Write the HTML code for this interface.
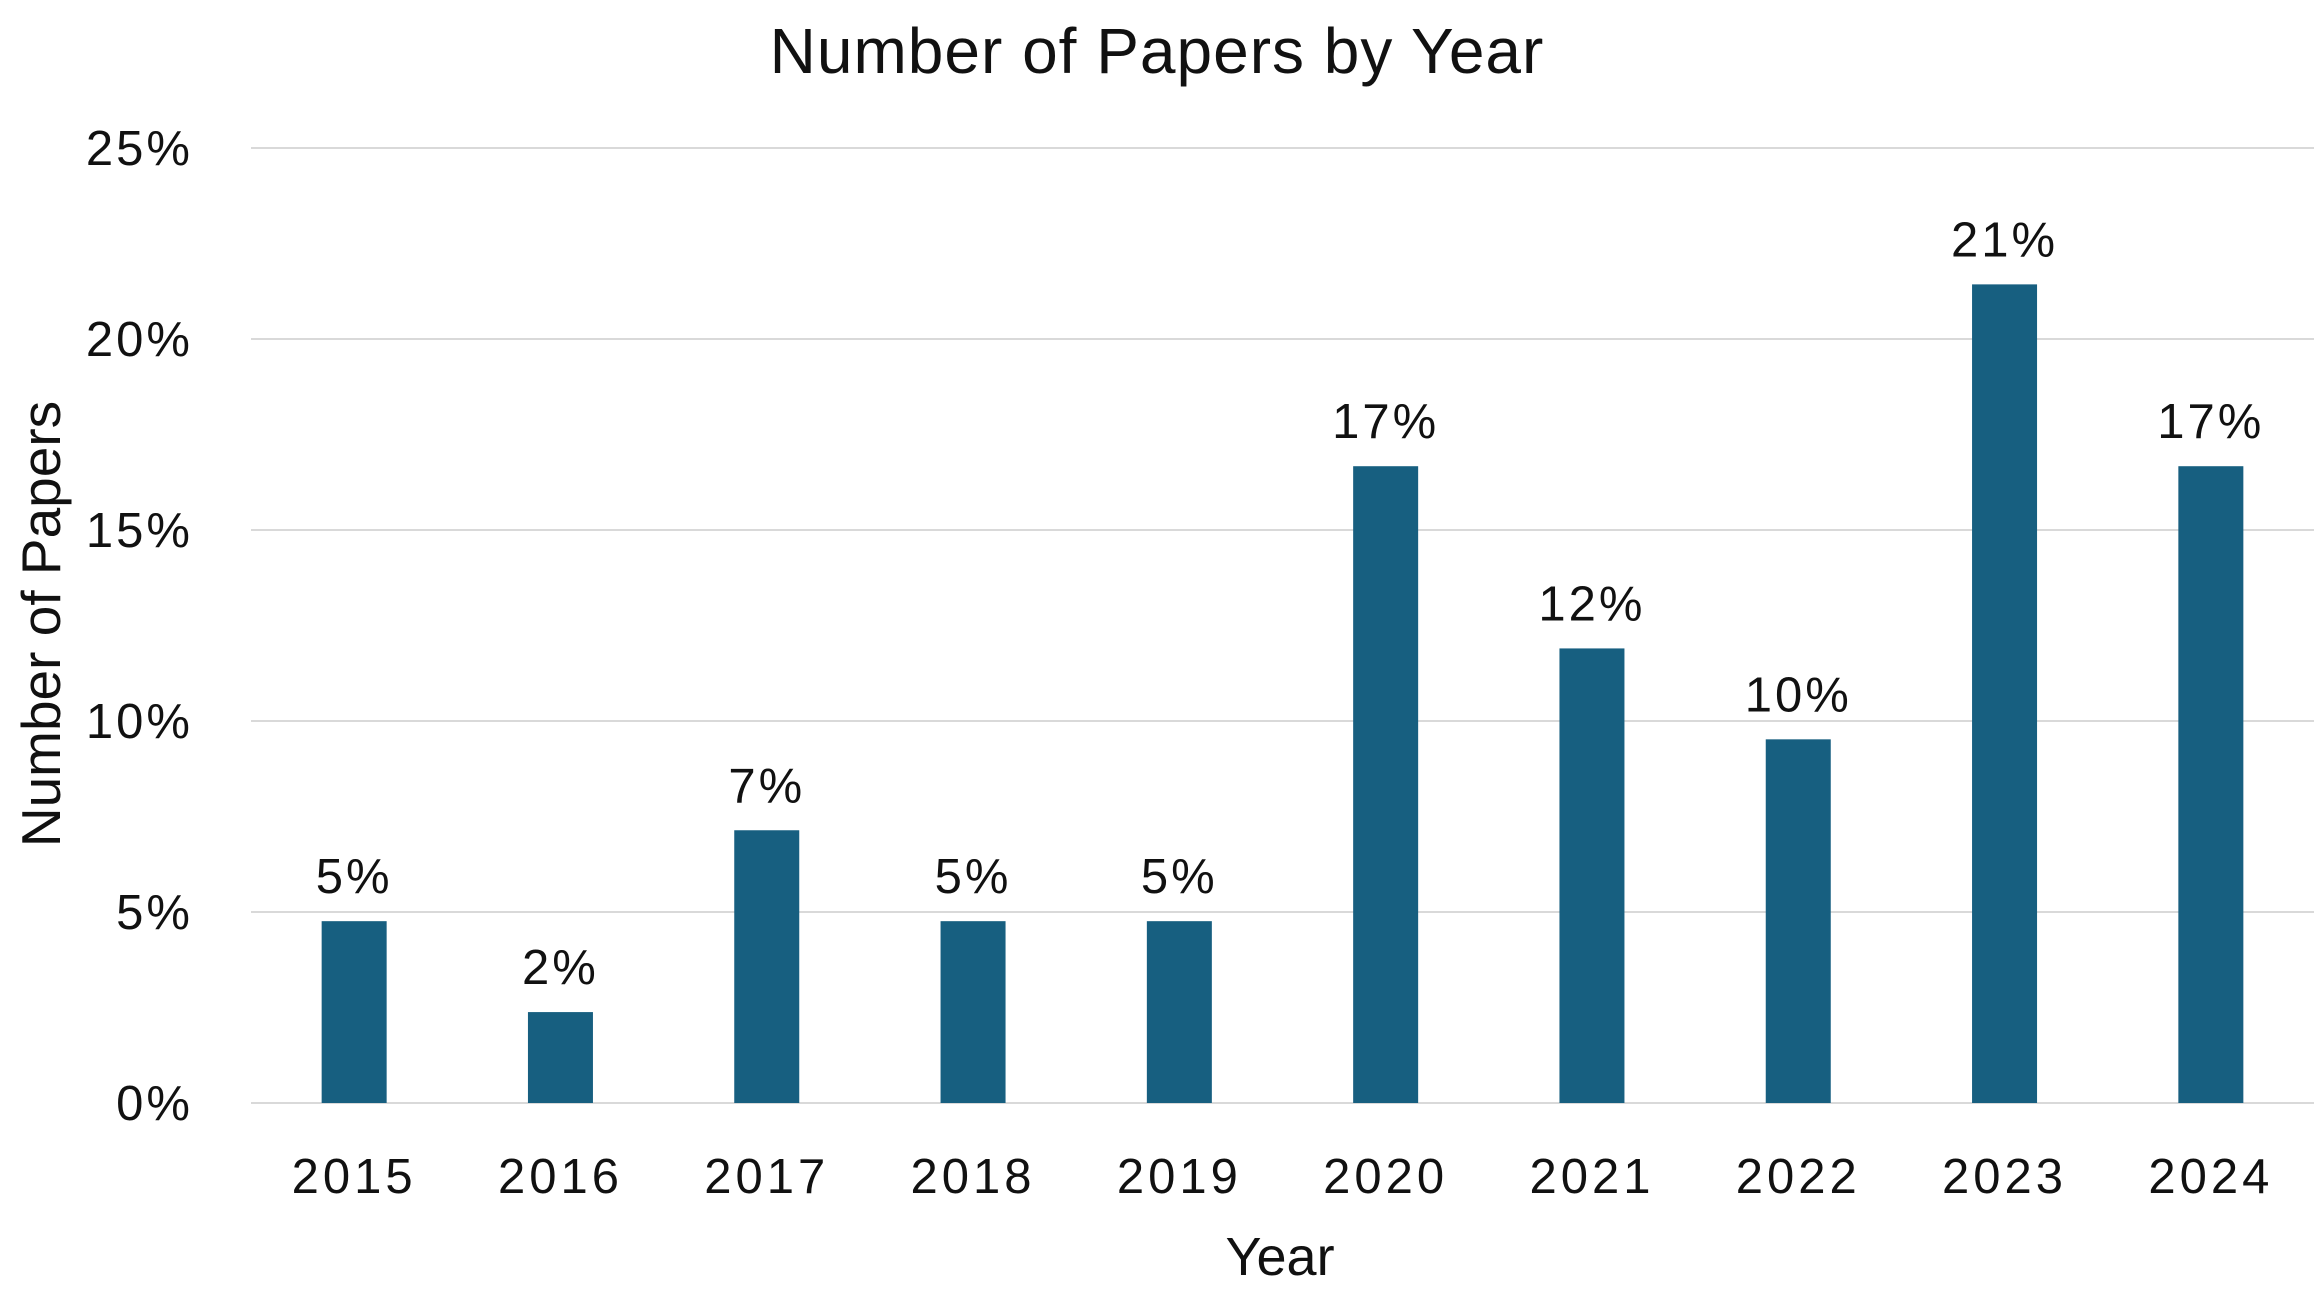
<!DOCTYPE html>
<html><head><meta charset="utf-8"><style>
html,body{margin:0;padding:0;background:#fff;}
svg text{font-family:"Liberation Sans",sans-serif;fill:#111;}
</style></head><body>
<svg id="chart" width="2323" height="1297" viewBox="0 0 2323 1297" xmlns="http://www.w3.org/2000/svg">
<text x="1157" y="73" font-size="64" text-anchor="middle" letter-spacing="1">Number of Papers by Year</text>
<text transform="translate(60,624) rotate(-90)" font-size="55" text-anchor="middle">Number of Papers</text>
<text x="1280" y="1275" font-size="54" text-anchor="middle">Year</text>
<g id="grid"></g><g id="bars"></g><g id="labels"></g>
</svg>
<script>
const categories = ["2015","2016","2017","2018","2019","2020","2021","2022","2023","2024"];
const values = [4.76, 2.38, 7.14, 4.76, 4.76, 16.67, 11.9, 9.52, 21.43, 16.67];
const valueLabels = ["5%","2%","7%","5%","5%","17%","12%","10%","21%","17%"];
const yTicks = [0, 5, 10, 15, 20, 25];
const yTickLabels = ["0%","5%","10%","15%","20%","25%"];

const NS = "http://www.w3.org/2000/svg";
const plotLeft = 251, plotRight = 2314, plotTop = 148, plotBottom = 1103, yMax = 25;
const band = (plotRight - plotLeft) / categories.length;
const barW = 65;
function yScale(v){ return plotBottom - (v / yMax) * (plotBottom - plotTop); }
function xc(i){ return plotLeft + band * (i + 0.5); }
function mk(tag, attrs, parent){
  const e = document.createElementNS(NS, tag);
  for (const k in attrs) e.setAttribute(k, attrs[k]);
  parent.appendChild(e); return e;
}
const grid = document.getElementById('grid');
const bars = document.getElementById('bars');
const labels = document.getElementById('labels');
yTicks.forEach((t, i) => {
  const ln = mk('line', {x1: plotLeft, x2: plotRight, y1: yScale(t), y2: yScale(t), stroke: '#d9d9d9', 'stroke-width': 2}, grid);
  
  
  const tx = mk('text', {x: 193, y: yScale(t) + 17, 'font-size': 49, 'text-anchor': 'end', 'letter-spacing': 3}, grid);
  tx.textContent = yTickLabels[i];
  
  
});
categories.forEach((c, i) => {
  const r = mk('rect', {x: xc(i) - barW / 2, y: yScale(values[i]), width: barW, height: plotBottom - yScale(values[i]), fill: '#175f80'}, bars);
  
  
  const vl = mk('text', {x: xc(i), y: yScale(values[i]) - 28, 'font-size': 49, 'text-anchor': 'middle', 'letter-spacing': 3}, labels);
  vl.textContent = valueLabels[i];
  
  
  const xl = mk('text', {x: xc(i), y: 1193, 'font-size': 49, 'text-anchor': 'middle', 'letter-spacing': 4}, labels);
  xl.textContent = c;
  
  
});
</script>
</body></html>
